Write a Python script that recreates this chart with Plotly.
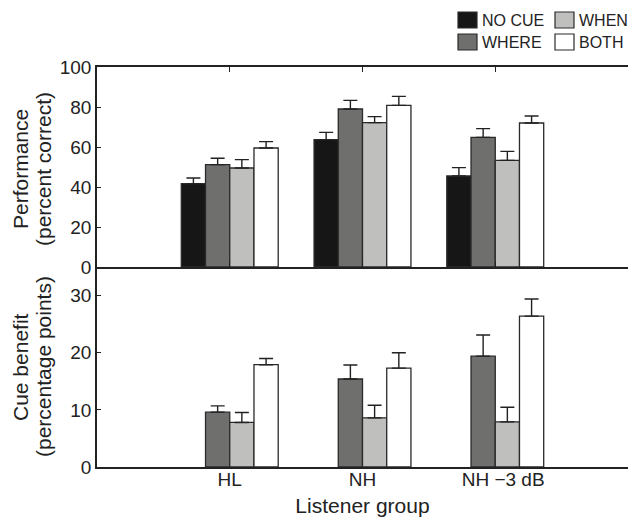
import plotly.graph_objects as go

# ---------------- data ----------------
groups = ["HL", "NH", "\u00a0\u00a0\u00a0NH \u22123 dB"]
cues = ["NO CUE", "WHERE", "WHEN", "BOTH"]

perf_nocue = [41.7, 63.7, 45.5]
perf_nocue_err = [2.8, 3.6, 4.2]
perf_where = [51.2, 79.0, 64.8]
perf_where_err = [3.2, 4.3, 4.4]
perf_when = [49.5, 72.2, 53.3]
perf_when_err = [4.2, 3.0, 4.5]
perf_both = [59.5, 80.8, 72.0]
perf_both_err = [3.2, 4.5, 3.5]

ben_where = [9.6, 15.4, 19.4]
ben_where_err = [1.1, 2.45, 3.7]
ben_when = [7.8, 8.6, 7.9]
ben_when_err = [1.75, 2.2, 2.55]
ben_both = [17.9, 17.3, 26.4]
ben_both_err = [1.1, 2.7, 3.0]

perf_ticks = [0, 20, 40, 60, 80, 100]
ben_ticks = [0, 10, 20, 30]
ben_minor_ticks = [5, 10, 15, 20, 25, 30]

perf_title = ["Performance", "(percent correct)"]
ben_title = ["Cue benefit", "(percentage points)"]

# ---------------- style ----------------
colors = {"NO CUE": "#161616", "WHERE": "#6f6f6d", "WHEN": "#bfc0be", "BOTH": "#ffffff"}
edge = "#2a2a2a"
ink = "#222222"
FONT = "Liberation Sans, Arial, sans-serif"

W, H = 628, 522
L, R, T, B = 97, 0, 67, 55

fig = go.Figure()

perf = {"NO CUE": (perf_nocue, perf_nocue_err), "WHERE": (perf_where, perf_where_err),
        "WHEN": (perf_when, perf_when_err), "BOTH": (perf_both, perf_both_err)}
ben = {"NO CUE": ([None, None, None], [0, 0, 0]), "WHERE": (ben_where, ben_where_err),
       "WHEN": (ben_when, ben_when_err), "BOTH": (ben_both, ben_both_err)}

for (data, xa, ya) in [(perf, "x", "y"), (ben, "x2", "y2")]:
    for c in cues:
        vals, err = data[c]
        fig.add_trace(go.Bar(
            x=groups, y=vals, name=c, xaxis=xa, yaxis=ya, offsetgroup=c,
            marker=dict(color=colors[c], line=dict(color=edge, width=1.3)),
            error_y=dict(type="data", symmetric=False, array=err,
                         arrayminus=[0] * len(err), color=ink, thickness=1.4, width=7),
            showlegend=False,
        ))

axis_common = dict(showline=True, linecolor=ink, linewidth=1.5, showgrid=False,
                   zeroline=False, tickcolor=ink, ticklen=4, tickwidth=1,
                   tickfont=dict(family=FONT, size=19, color=ink))

fig.update_layout(
    width=W, height=H,
    margin=dict(l=L, r=R, t=T, b=B, autoexpand=False),
    paper_bgcolor="white", plot_bgcolor="white",
    barmode="group", bargap=0.27, bargroupgap=0,
    font=dict(family=FONT, color=ink),
    xaxis=dict(axis_common, domain=[0, 1], anchor="y", range=[-1, 3],
               ticks="inside", ticklen=5, mirror="ticks", showticklabels=False,
               categoryorder="array", categoryarray=groups),
    yaxis=dict(axis_common, domain=[0.5, 1], anchor="x", range=[0, 100],
               tickvals=perf_ticks, ticks="inside"),
    yaxis3=dict(overlaying="y", side="right", anchor="x", range=[0, 100],
                tickvals=perf_ticks[1:-1], ticks="inside", ticklen=4, tickcolor=ink,
                showticklabels=False, showline=False, showgrid=False, zeroline=False),
    xaxis2=dict(axis_common, domain=[0, 1], anchor="y2", range=[-1, 3], ticks="",
                ticklabelstandoff=-6,
                categoryorder="array", categoryarray=groups,
                title=dict(text="Listener group", font=dict(family=FONT, size=21, color=ink),
                           standoff=10)),
    yaxis2=dict(axis_common, domain=[0, 0.5], anchor="x2", range=[0, 35],
                tickvals=ben_ticks, ticks="inside"),
    yaxis4=dict(overlaying="y2", side="right", anchor="x2", range=[0, 35],
                tickvals=ben_minor_ticks, ticks="inside", ticklen=4, tickcolor=ink,
                showticklabels=False, showline=False, showgrid=False, zeroline=False),
)

pw, ph = W - L - R, H - T - B
def px(xp):
    return (xp - L) / pw
def py(yp):
    return (H - B - yp) / ph

# ---------------- y-axis titles (two lines each) ----------------
for lines, yc in [(perf_title, 169), (ben_title, 367)]:
    for text, xc in zip(lines, [20, 43]):
        fig.add_annotation(xref="paper", yref="paper", x=px(xc), y=py(yc), text=text,
                           textangle=-90, showarrow=False, xanchor="center", yanchor="middle",
                           font=dict(family=FONT, size=21, color=ink))

# ---------------- manual legend (2 x 2) ----------------
legend_layout = [("NO CUE", 458, 12), ("WHEN", 555, 12), ("WHERE", 458, 34), ("BOTH", 555, 34)]
for name, x0, y0 in legend_layout:
    fig.add_shape(type="rect", xref="paper", yref="paper",
                  x0=px(x0), x1=px(x0 + 19), y0=py(y0 + 16), y1=py(y0),
                  fillcolor=colors[name], line=dict(color=edge, width=1.2))
    fig.add_annotation(xref="paper", yref="paper", x=px(x0 + 22), y=py(y0 + 8),
                       text=name, showarrow=False, xanchor="left", yanchor="middle",
                       font=dict(family=FONT, size=16, color=ink))

fig.write_html("out.html", config={"displayModeBar": False},
               post_script="document.body.style.margin='0';document.body.style.overflow='hidden';")
